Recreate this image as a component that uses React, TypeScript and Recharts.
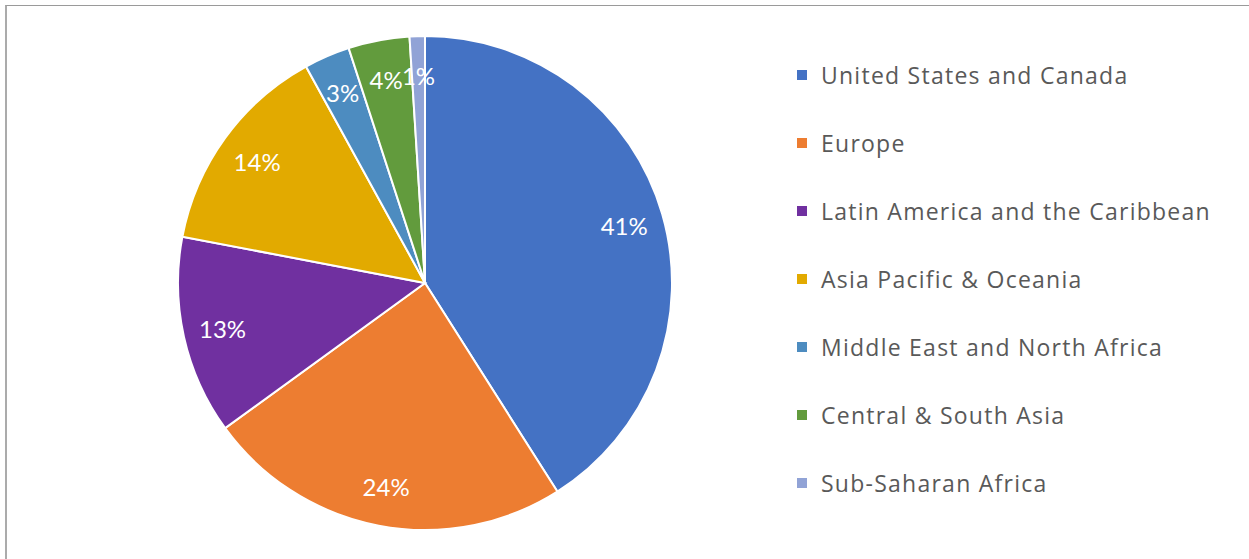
import { PieChart, Pie, Cell, Legend } from 'recharts';

const REGIONS = [
  'United States and Canada',
  'Europe',
  'Latin America and the Caribbean',
  'Asia Pacific & Oceania',
  'Middle East and North Africa',
  'Central & South Asia',
  'Sub-Saharan Africa',
];

const SHARES = [41, 24, 13, 14, 3, 4, 1];

const COLORS = ['#4472C4', '#ED7D31', '#7030A0', '#E2AA00', '#4D8CC0', '#629B3D', '#91A3D6'];

const data = REGIONS.map((name, i) => ({ name, value: SHARES[i] }));

const RAD = Math.PI / 180;
const FONT = 'Lato, "Open Sans", sans-serif';

const renderLabel = (props: any) => {
  const { cx, cy, midAngle, outerRadius, value } = props;
  const r = outerRadius * 0.84;
  const x = cx + r * Math.cos(-midAngle * RAD);
  const y = cy + r * Math.sin(-midAngle * RAD);
  return (
    <text
      x={x}
      y={y}
      fill="#ffffff"
      fontSize={24}
      fontFamily={FONT}
      textAnchor="middle"
      dominantBaseline="central"
    >
      {value}%
    </text>
  );
};

const LegendList = () => (
  <div style={{ fontFamily: '"Open Sans", sans-serif' }}>
    {data.map((d, i) => (
      <div
        key={d.name}
        style={{ display: 'flex', alignItems: 'center', height: 68 }}
      >
        <span
          style={{
            width: 10,
            height: 10,
            background: COLORS[i],
            display: 'inline-block',
            marginRight: 14,
          }}
        />
        <span style={{ fontSize: 23, color: '#595959', letterSpacing: 1.25, whiteSpace: 'nowrap' }}>
          {d.name}
        </span>
      </div>
    ))}
  </div>
);

const App = () => {
  return (
    <div style={{ position: 'fixed', left: 0, top: 0, width: 1249, height: 559, background: '#fff' }}>
      <div
        style={{
          position: 'absolute',
          left: 5,
          top: 5,
          width: 1300,
          height: 600,
          borderTop: '1px solid #9a9a9a',
          borderLeft: '2px solid #ababab',
        }}
      />
      <PieChart
        width={1249}
        height={559}
        margin={{ top: 0, right: 0, bottom: 0, left: 0 }}
        style={{ position: 'absolute', left: 0, top: 0 }}
      >
        <Pie
          data={data}
          dataKey="value"
          nameKey="name"
          cx={425}
          cy={283}
          outerRadius={247}
          startAngle={90}
          endAngle={-270}
          stroke="#ffffff"
          strokeWidth={2}
          label={renderLabel}
          labelLine={false}
          isAnimationActive={false}
        >
          {data.map((d, i) => (
            <Cell key={d.name} fill={COLORS[i]} />
          ))}
        </Pie>
        <Legend
          layout="vertical"
          content={<LegendList />}
          wrapperStyle={{ left: 797, top: 41, width: 450 }}
        />
      </PieChart>
    </div>
  );
};

export default App;
